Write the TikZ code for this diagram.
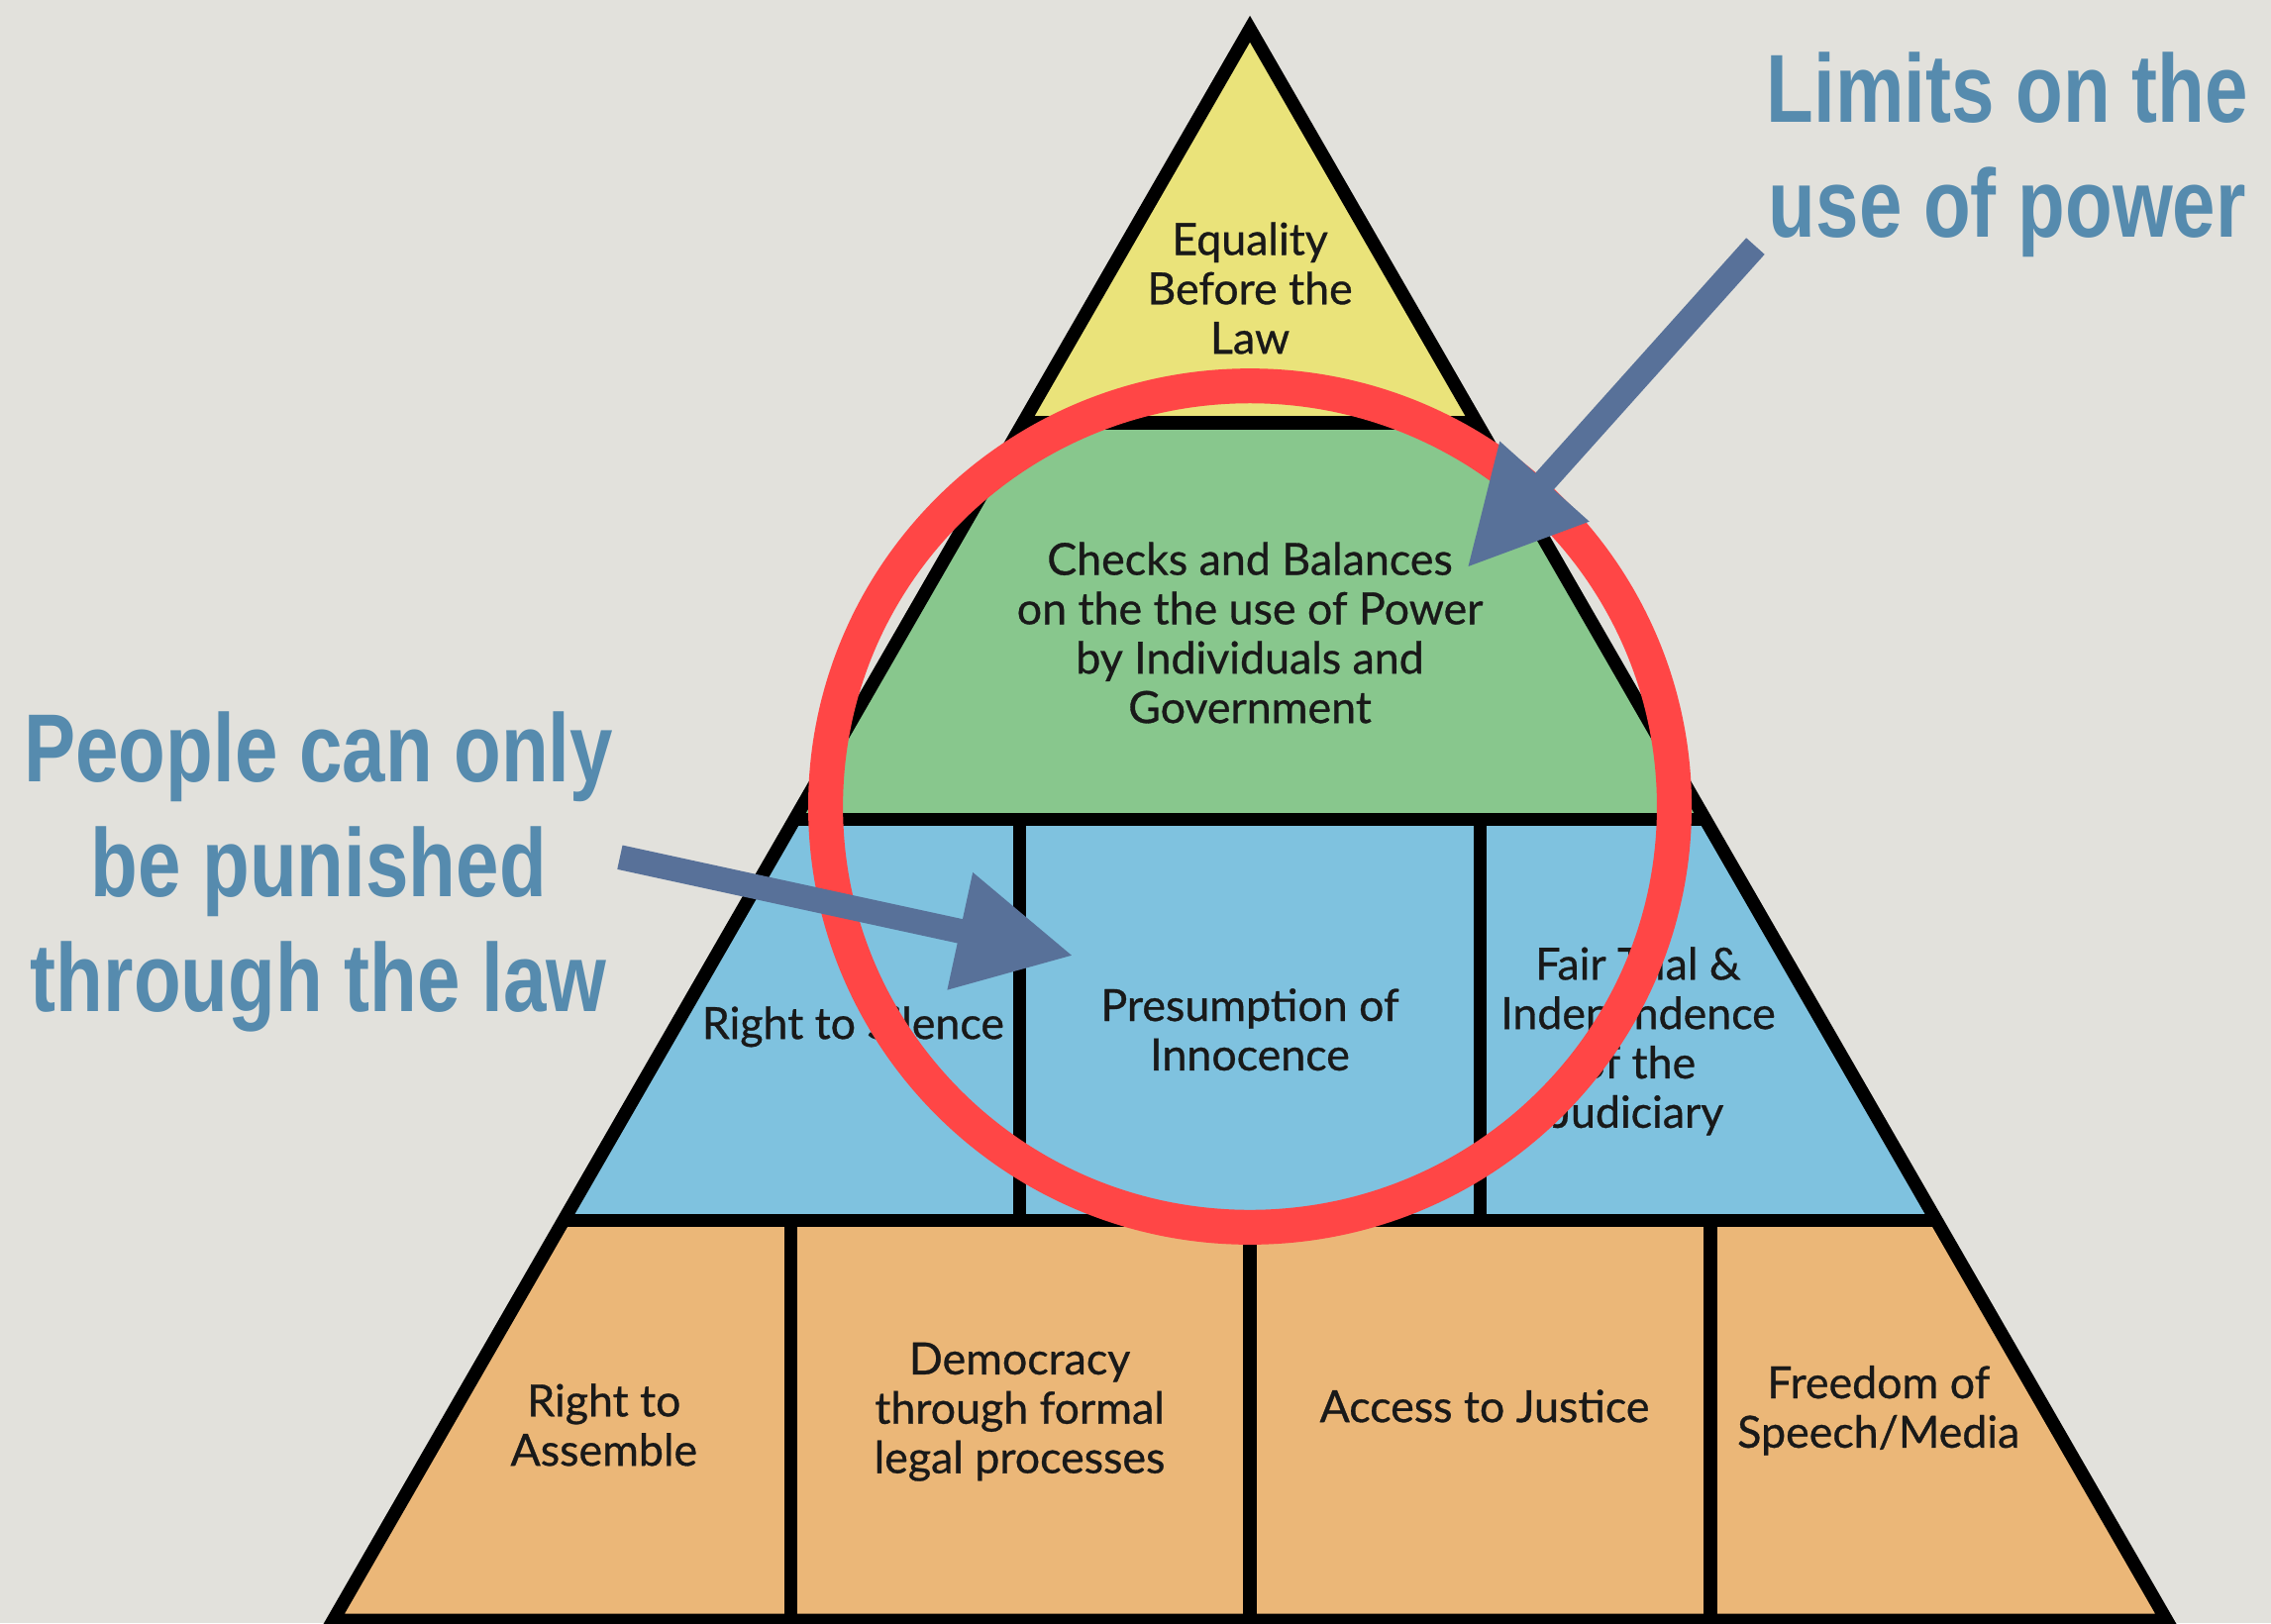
\documentclass[tikz,border=0pt]{standalone}
\usepackage{fontspec}
\setmainfont{Lato}
\newfontfamily\cellfont[FakeBold=0.7]{Lato}
\newfontfamily\notefont[FakeStretch=0.8]{Liberation Sans}
\usetikzlibrary{arrows.meta}

\definecolor{paper}{HTML}{E2E1DC}
\definecolor{topyellow}{HTML}{EAE37A}
\definecolor{midgreen}{HTML}{88C78D}
\definecolor{rowblue}{HTML}{7FC2DF}
\definecolor{baseorange}{HTML}{EBB778}
\definecolor{notetext}{HTML}{568BAE}
\definecolor{pointer}{HTML}{587199}
\definecolor{ringred}{HTML}{FF4646}

\tikzset{
    outline/.style={draw=black, line width=2.6pt, line join=miter},
    celltext/.style={align=center, text=black!90, font=\cellfont\fontsize{8.7}{9.7}\selectfont},
    notelabel/.style={align=center, text=notetext, font=\notefont\bfseries\fontsize{19}{22.5}\selectfont},
    ring/.style={draw=ringred, line width=0.24cm},
    pointerarrow/.style={draw=pointer, line width=0.17cm, -{Triangle[length=0.8cm, width=0.78cm]}, pointer}
}

\begin{document}
\begin{tikzpicture}

        \useasboundingbox (00.00,00.00) rectangle (15.68,11.21);
        \fill[paper] (00.00,00.00) rectangle (15.68,11.21);

        % Equality Before the Law
        \fill[topyellow] (08.63,11.01) -- (10.20,08.29) -- (07.06,08.29) -- cycle;

        % Checks and Balances
        \fill[midgreen] (07.06,08.29) -- (10.20,08.29) -- (11.775,05.55) -- (05.485,05.55) -- cycle;

        % blue row
        \fill[rowblue] (05.485,05.55) -- (11.775,05.55) -- (13.37,02.78) -- (03.89,02.78) -- cycle;

        % orange row
        \fill[baseorange] (03.89,02.78) -- (13.37,02.78) -- (14.96,00.02) -- (02.30,00.02) -- cycle;

        % outline and dividers
        \draw[outline] (08.63,11.01) -- (14.96,00.02) -- (02.30,00.02) -- cycle;
        \draw[outline] (07.06,08.29) -- (10.20,08.29);
        \draw[outline] (05.485,05.55) -- (11.775,05.55);
        \draw[outline] (03.89,02.78) -- (13.37,02.78);
        \draw[outline] (07.04,05.55) -- (07.04,02.78);
        \draw[outline] (10.22,05.55) -- (10.22,02.78);
        \draw[outline] (05.46,02.78) -- (05.46,00.02);
        \draw[outline] (08.63,02.78) -- (08.63,00.02);
        \draw[outline] (11.81,02.78) -- (11.81,00.02);

        % cell texts
        \node[celltext] (equality) at (08.63,09.22) {Equality\\Before the\\Law};
        \node[celltext] (checks) at (08.63,06.84) {Checks and Balances\\on the the use of Power\\by Individuals and\\Government};
        \node[celltext] (silence) at (05.89,04.12) {Right to Silence};
        \node[celltext] (innocence) at (08.63,04.10) {Presumption of\\Innocence};
        \node[celltext] (trial) at (11.31,04.02) {Fair Trial \&\\Independence\\of the\\Judiciary};
        \node[celltext] (assemble) at (04.17,01.37) {Right to\\Assemble};
        \node[celltext] (democracy) at (07.04,01.46) {Democracy\\through formal\\legal processes};
        \node[celltext] (justice) at (10.25,01.50) {Access to Justice};
        \node[celltext] (speech) at (12.97,01.47) {Freedom of\\Speech/Media};

        % red circle
        \draw[ring] (08.63,05.64) ellipse [x radius=2.93, y radius=2.905];

        % notes
        \node[notelabel] (limits) at (13.86,10.14) {Limits on the\\use of power};
        \node[notelabel] (punished) at (02.20,05.19) {People can only\\be punished\\through the law};

        % arrows
        \coordinate (limitsTail) at (12.12,09.51);
        \coordinate (limitsTip) at (10.13,07.29);
        \coordinate (punishedTail) at (04.28,05.29);
        \coordinate (punishedTip) at (07.41,04.61);
        \draw[pointerarrow] (limitsTail) -- (limitsTip);
        \draw[pointerarrow] (punishedTail) -- (punishedTip);

    \end{tikzpicture}
\end{document}
